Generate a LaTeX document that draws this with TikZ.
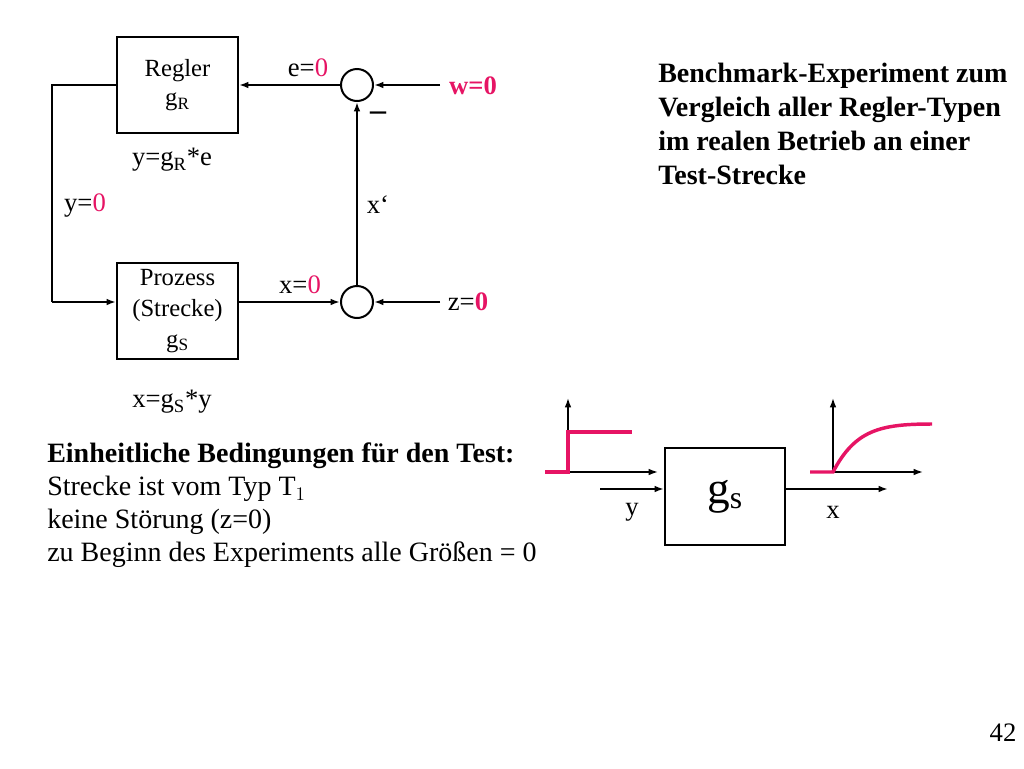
\documentclass[tikz,border=0pt]{standalone}
\usepackage{fontspec}
\setmainfont{Liberation Serif}
\usetikzlibrary{arrows.meta}
\begin{document}
\begin{tikzpicture}[x=0.75pt,y=-0.75pt,
  blk/.style={draw,line width=1.5pt,inner sep=0pt},
  sumc/.style={draw,circle,line width=1.5pt,minimum size=24pt,inner sep=0pt},
  conn/.style={line width=1.4pt,-{Latex[length=7pt,width=5pt]}},
  lbl/.style={font=\fontsize{20}{22}\selectfont,inner sep=1pt},
  pk/.style={color={rgb,255:red,230;green,20;blue,100}},
  sig/.style={line width=2.6pt,draw={rgb,255:red,230;green,20;blue,100}},
  big/.style={align=left,anchor=north west,inner sep=0pt}]
\useasboundingbox (0,0) rectangle (1024,768);
\node[blk,minimum width=90.75pt,minimum height=72pt,align=center,font=\fontsize{18.5}{22}\selectfont] (R) at (177.5,85) {Regler\\g$_{\mathrm{R}}$};
\node[blk,minimum width=90.75pt,minimum height=72pt,align=center,font=\fontsize{18.5}{23}\selectfont] (P) at (177.5,311) {Prozess\\(Strecke)\\g$_{\mathrm{S}}$};
\node[sumc] (S1) at (357,85) {};
\node[sumc] (S2) at (357,302) {};
\coordinate (W) at (440,85);
\coordinate (Z) at (440,302);
\coordinate (L1) at (52,85);
\coordinate (L2) at (52,302);
\draw[conn] (W) -- (S1.east);
\draw[conn] (S1.west) -- (R.east);
\draw[line width=1.4pt] (R.west) -- (L1) -- (L2);
\draw[conn] (L2) -- (P.west |- L2);
\draw[conn] (P.east |- S2) -- (S2.west);
\draw[conn] (Z) -- (S2.east);
\draw[conn] (S2.north) -- (S1.south);
\node[lbl] (le) at (308,68) {e=\textcolor[RGB]{230,20,100}{0}};
\node[lbl,font=\bfseries\fontsize{20}{22}\selectfont,pk] (lw) at (473,86) {w=0};
\node[lbl] (lz) at (468,302) {z=\textcolor[RGB]{230,20,100}{\bfseries 0}};
\node[lbl] (lx) at (300,285) {x=\textcolor[RGB]{230,20,100}{0}};
\node[lbl] (ly) at (85,206) {y=\textcolor[RGB]{230,20,100}{0}};
\node[lbl] (lxp) at (378,205) {x‘};
\node[font=\bfseries\fontsize{24}{24}\selectfont] (mi) at (378,116) {–};
\node[lbl] (ygr) at (172,160) {y=g$_{\mathrm{R}}$*e};
\node[lbl] (xgs) at (172,402) {x=g$_{\mathrm{S}}$*y};
\node[big,font=\bfseries\fontsize{21}{25.5}\selectfont] (bench) at (658,63) {Benchmark-Experiment zum\\Vergleich aller Regler-Typen\\im realen Betrieb an einer\\Test-Strecke};
\node[big,font=\fontsize{21}{24.7}\selectfont] (cond) at (47,443) {\textbf{Einheitliche Bedingungen für den Test:}\\Strecke ist vom Typ T$_1$\\keine Störung (z=0)\\zu Beginn des Experiments alle Größen = 0};
% lower right block
\node[blk,minimum width=90pt,minimum height=72.75pt,font=\fontsize{34}{34}\selectfont] (G) at (725,496.5) {g$_{\mathrm{s}}$};
\coordinate (yin) at (600,489);
\coordinate (xout) at (888,489);
\draw[conn] (yin) -- (G.west |- yin);
\draw[conn] (G.east |- xout) -- (xout);
\node[lbl] (ly2) at (632,512) {y};
\node[lbl] (lx2) at (833,512) {x};
\coordinate (a1) at (568,472);
\draw[conn,line width=1.2pt] (a1) -- (568,398);
\draw[conn,line width=1.2pt] (a1) -- (658,472);
\draw[sig] (545,472) -- (568,472) -- (568,432) -- (632,432);
\coordinate (a2) at (833,472);
\draw[conn,line width=1.2pt] (a2) -- (833,398);
\draw[conn,line width=1.2pt] (a2) -- (923,472);
\draw[sig] (810,472) -- (833,472) .. controls (855,430) and (880,424) .. (932,424);
\node[lbl] (pg) at (1003,733) {42};
\end{tikzpicture}
\end{document}
